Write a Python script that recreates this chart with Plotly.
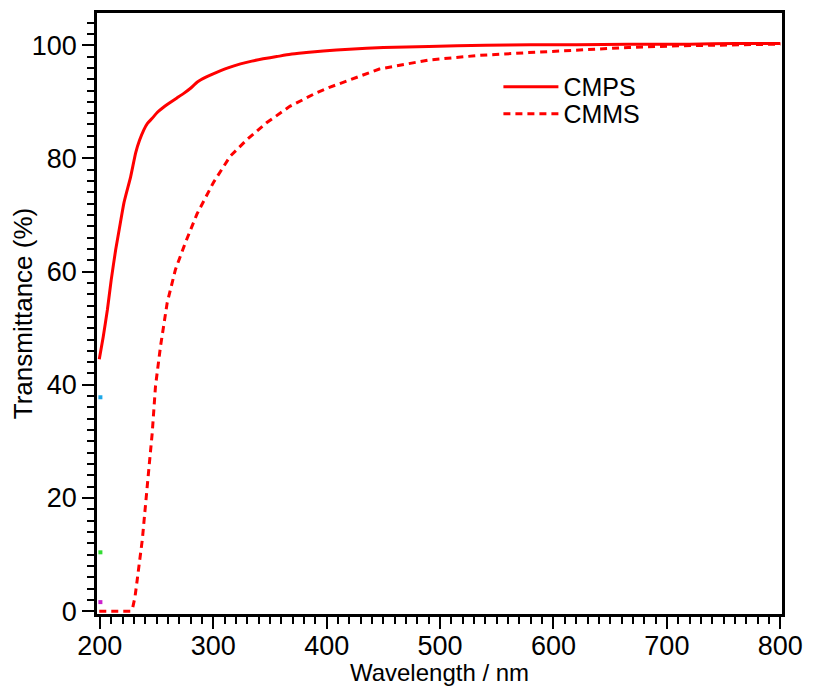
import plotly.graph_objects as go

# CMPS (solid)
cmps_wl = [199.5, 203, 206.7, 210, 214, 218, 221.3, 227.2, 231.6, 235, 238.9, 242, 246.2,
           251, 256.4, 262, 268, 274, 280, 286, 294, 303, 313, 324, 334, 344, 356, 368,
           382, 397, 420, 450, 490, 540, 580, 620, 666, 720, 760, 800]
cmps_t = [44.5, 48.5, 53.3, 58.5, 63.9, 68.5, 72.2, 76.8, 81.0, 83.2, 85.1, 86.2, 87.1,
          88.2, 89.1, 89.9, 90.7, 91.5, 92.4, 93.5, 94.4, 95.2, 96.0, 96.7, 97.2, 97.6, 98.0, 98.4,
          98.7, 99.0, 99.3, 99.6, 99.8, 100.0, 100.1, 100.1, 100.2, 100.2, 100.3, 100.3]

# CMMS (dashed)
cmms_wl = [199.5, 210, 220, 227, 228.7, 231, 233, 237.5, 241.8, 246.2, 249.1, 253.5, 259.4,
           266.7, 275.4, 285.7, 300.3, 315, 329.6, 347, 367.5, 391, 403, 420, 446.5, 490,
           534, 578, 622, 666, 710, 753, 800]
cmms_t = [0, 0, 0, 0, 0.35, 2.5, 5.6, 12.7, 22.1, 31.5, 39.8, 46.8, 54.5,
          60.4, 65.1, 70.2, 75.8, 80.4, 83.3, 86.3, 89.2, 91.6, 92.6, 93.9, 95.8, 97.4,
          98.2, 98.7, 99.2, 99.6, 99.9, 100.1, 100.2]

# stray points at the left edge
stray_wl = [200.5, 200.5, 200.5]
stray_t = [37.8, 10.4, 1.6]
stray_colors = ["#1EA8E8", "#33DD33", "#CC22CC"]

x_tick_start, x_tick_step, x_minor_step = 200, 100, 10
y_tick_start, y_tick_step, y_minor_step = 0, 20, 2

FONT = "Liberation Sans, Arial, sans-serif"

fig = go.Figure()
fig.add_trace(go.Scatter(x=cmps_wl, y=cmps_t, mode="lines", name="CMPS",
                         line=dict(color="#FF0000", width=3, shape="spline", smoothing=0.5),
                         legend="legend"))
fig.add_trace(go.Scatter(x=cmms_wl, y=cmms_t, mode="lines", name="CMMS",
                         line=dict(color="#FF0000", width=3, dash="7px,5px"),
                         legend="legend2"))
fig.add_trace(go.Scatter(x=stray_wl, y=stray_t, mode="markers", showlegend=False,
                         marker=dict(color=stray_colors, size=4, symbol="square")))

axis_common = dict(
    showline=True, linecolor="black", linewidth=2.5, mirror=True,
    ticks="outside", ticklen=12, tickwidth=2, tickcolor="black",
    showgrid=False, zeroline=False, automargin=False,
    tickfont=dict(family=FONT, size=27, color="black"),
)

fig.update_xaxes(range=[197.5, 801.5], tickmode="linear", tick0=x_tick_start, dtick=x_tick_step,
                 minor=dict(dtick=x_minor_step, tick0=x_tick_start, ticklen=7, tickwidth=2,
                            ticks="outside", tickcolor="black", showgrid=False),
                 ticklabelstandoff=-6,
                 title=dict(text="Wavelength / nm", font=dict(family=FONT, size=24, color="black"),
                            standoff=0),
                 **axis_common)
fig.update_yaxes(range=[-0.5, 105.7], tickmode="linear", tick0=y_tick_start, dtick=y_tick_step,
                 minor=dict(dtick=y_minor_step, tick0=y_tick_start, ticklen=7, tickwidth=2,
                            ticks="outside", tickcolor="black", showgrid=False),
                 title=dict(text="Transmittance (%)", font=dict(family=FONT, size=26, color="black"),
                            standoff=4),
                 **axis_common)

leg_common = dict(xanchor="left", yanchor="middle", bgcolor="rgba(0,0,0,0)",
                  font=dict(family=FONT, size=25, color="black"), itemwidth=55)
fig.update_layout(
    width=806, height=678,
    margin=dict(l=89, r=32, t=5, b=72),
    paper_bgcolor="white", plot_bgcolor="white",
    legend=dict(x=0.586, y=0.877, **leg_common),
    legend2=dict(x=0.586, y=0.832, **leg_common),
    showlegend=True,
)

fig.write_html("out.html")
